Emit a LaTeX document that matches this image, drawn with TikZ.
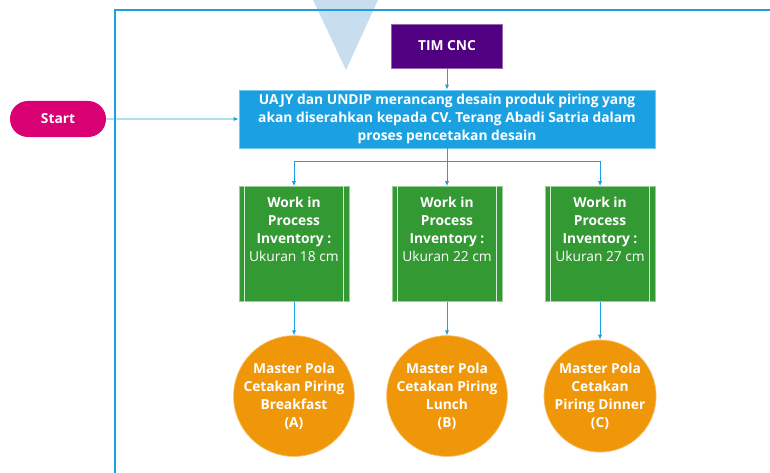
\documentclass[tikz,border=0pt]{standalone}
\usepackage{fontspec}
\setmainfont{Open Sans}
\usetikzlibrary{%
  positioning
 ,arrows.meta
 ,shapes
}
\definecolor{biru}{RGB}{27,161,226}
\definecolor{ungu}{RGB}{80,0,128}
\definecolor{hijau}{RGB}{51,153,51}
\definecolor{oranye}{RGB}{240,150,9}
\definecolor{merah}{RGB}{216,0,115}
\definecolor{segitiga}{RGB}{200,222,238}
\tikzstyle{alur}=[on grid,inner sep=0pt,text=white,align=center,
  font=\fontsize{9.8}{12.8}\selectfont\bfseries]
\tikzstyle{mulai}=[rounded rectangle,fill=merah,minimum width=2.4cm,minimum height=0.9cm]
\tikzstyle{tim}=[rectangle,fill=ungu,draw=ungu!60!white,line width=0.5pt,minimum width=2.775cm,minimum height=1.1cm]
\tikzstyle{proses}=[rectangle,fill=biru,draw=biru!60!white,line width=0.5pt,minimum width=10.4cm,minimum height=1.45cm]
\tikzstyle{wip}=[rectangle,fill=hijau,draw=hijau!50!white,line width=0.5pt,minimum width=2.75cm,minimum height=2.875cm]
\tikzstyle{hasil}=[circle,fill=oranye,draw=oranye!60!white,line width=0.5pt,minimum size=2.78cm]
\tikzstyle{panah}=[draw=biru,line width=0.6pt,-{Latex[length=3.5pt,width=3pt]}]

\begin{document}
\begin{tikzpicture}[alur,x=0.025cm,y=-0.025cm]
  \useasboundingbox (0,0) rectangle (770,473);
  % segitiga dan bingkai
  \fill[segitiga] (313,0) -- (378,0) -- (346,70) -- cycle;
  \draw[biru,line width=1.6pt] (770,10) -- (115,10) -- (115,473);

  \node[proses] (p_0) at (447,119) {UAJY dan UNDIP merancang desain produk piring yang\\
    akan diserahkan kepada CV. Terang Abadi Satria dalam\\ proses pencetakan desain};
  \node[tim] (tim) [above=1.825cm of p_0] {TIM CNC};
  \node[mulai] (start) at (58,119) {Start};

  \node[wip] (w_2) at (447,244) {};
  \node[wip] (w_1) [left=3.825cm of w_2] {};
  \node[wip] (w_3) [right=3.825cm of w_2] {};

  \node[hasil] (h_1) [below=3.8cm of w_1] {Master Pola\\Cetakan Piring\\Breakfast\\(A)};
  \node[hasil] (h_2) [below=3.8cm of w_2] {Master Pola\\Cetakan Piring\\Lunch\\(B)};
  \node[hasil] (h_3) [below=3.8cm of w_3] {Master Pola\\Cetakan\\Piring Dinner\\(C)};

  \foreach \i/\uk in {1/18,2/22,3/27} {
    \draw[white!80!hijau,line width=0.6pt]
      ([xshift=0.15cm]w_\i.north west) -- ([xshift=0.15cm]w_\i.south west)
      ([xshift=-0.15cm]w_\i.north east) -- ([xshift=-0.15cm]w_\i.south east);
    \node[anchor=north] (t_\i) at ([yshift=-0.26cm]w_\i.north)
      {Work in\\Process\\Inventory :\\{\mdseries Ukuran \uk\ cm}};
    \path[panah] (w_\i) -- (h_\i);
  }

  \path[panah] (start) -- (p_0);
  \path[panah] (tim) -- (p_0);
  \coordinate (c_0) at ([yshift=-0.325cm]p_0.south);
  \draw[biru,line width=0.6pt] (p_0) -- (c_0);
  \draw[biru,line width=0.6pt] (c_0 -| w_1) -- (c_0 -| w_3);
  \path[panah] (c_0 -| w_1) -- (w_1);
  \path[panah] (c_0 -| w_2) -- (w_2);
  \path[panah] (c_0 -| w_3) -- (w_3);
\end{tikzpicture}
\end{document}
